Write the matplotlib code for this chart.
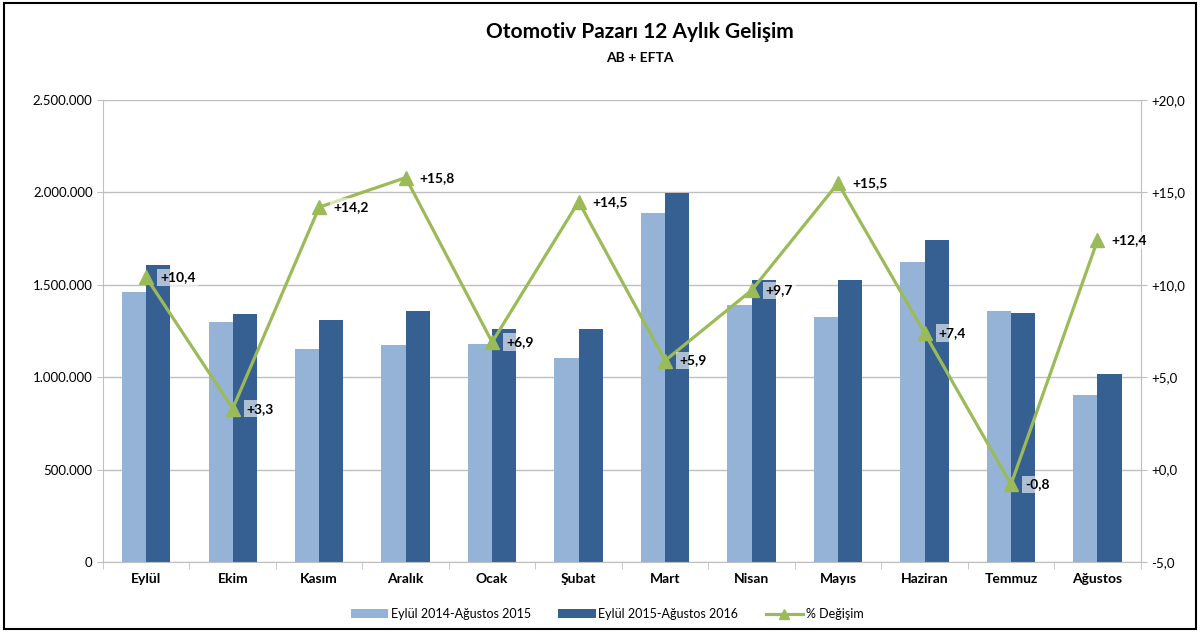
import matplotlib.pyplot as plt
import numpy as np
from matplotlib.patches import Rectangle
from matplotlib.ticker import FuncFormatter

plt.rcParams['font.family'] = ['Lato', 'DejaVu Sans']

months = ['Eylül', 'Ekim', 'Kasım', 'Aralık', 'Ocak', 'Şubat', 'Mart',
          'Nisan', 'Mayıs', 'Haziran', 'Temmuz', 'Ağustos']
prev_year = [1461000, 1299000, 1153000, 1174000, 1180000, 1104000, 1889000,
             1390000, 1326000, 1623000, 1358000, 904000]
this_year = [1607000, 1342000, 1310000, 1358000, 1260000, 1260000, 1997000,
             1526000, 1526000, 1742000, 1347000, 1017000]
change = [10.4, 3.3, 14.2, 15.8, 6.9, 14.5, 5.9, 9.7, 15.5, 7.4, -0.8, 12.4]

light = '#95B3D7'
dark = '#366092'
green = '#9BBB59'
grid = '#BFBFBF'

fig = plt.figure(figsize=(12.02, 6.39), dpi=100)
ax = fig.add_axes([0.0857, 0.1205, 0.8633, 0.723])
x = np.arange(len(months))
w = 0.28
ax.bar(x - w / 2, prev_year, w, color=light, label='Eylül 2014-Ağustos 2015', zorder=2)
ax.bar(x + w / 2, this_year, w, color=dark, label='Eylül 2015-Ağustos 2016', zorder=2)
ax.set_xlim(-0.5, len(months) - 0.5)
ax.set_ylim(0, 2500000)
ax.set_yticks(np.arange(0, 2500001, 500000))
ax.yaxis.set_major_formatter(FuncFormatter(lambda v, p: f'{int(v):,}'.replace(',', '.')))
ax.grid(axis='y', color=grid, lw=1, zorder=0)
ax.set_xticks(x)
ax.set_xticklabels(months, fontweight='bold', fontsize=10)
ax.set_xticks(np.arange(-0.5, len(months)), minor=True)
ax.tick_params(axis='x', which='major', length=0, pad=8)
ax.tick_params(axis='x', which='minor', length=5, color=grid)
ax.tick_params(axis='y', length=4, color=grid, labelsize=9.5)
for s in ['top', 'right']:
    ax.spines[s].set_visible(False)
for s in ['left', 'bottom']:
    ax.spines[s].set_color(grid)

ax2 = ax.twinx()
ax2.plot(x, change, color=green, lw=2.3, marker='^', markersize=10, label='% Değişim', zorder=3)
ax2.set_ylim(-5, 20)
ax2.set_yticks(np.arange(-5, 20.1, 5))
ax2.yaxis.set_major_formatter(FuncFormatter(lambda v, p: (f'{v:+.1f}').replace('.', ',')))
ax2.tick_params(axis='y', length=4, color=grid, labelsize=9.5)
for s in ['top', 'left', 'bottom']:
    ax2.spines[s].set_visible(False)
ax2.spines['right'].set_color(grid)
for xi, v in zip(x, change):
    ax2.annotate(f'{v:+.1f}'.replace('.', ','), (xi, v), xytext=(10, 0),
                 textcoords='offset points', va='center', ha='left',
                 fontsize=10, fontweight='bold',
                 bbox=dict(boxstyle='square,pad=0.2', fc='white', ec='none', alpha=0.6))

fig.text(0.532, 0.95, 'Otomotiv Pazarı 12 Aylık Gelişim', ha='center', va='center',
         fontsize=15, fontweight='bold')
fig.text(0.532, 0.909, 'AB + EFTA', ha='center', va='center', fontsize=10, fontweight='bold')

h1, l1 = ax.get_legend_handles_labels()
h2, l2 = ax2.get_legend_handles_labels()
leg = fig.legend(h1 + h2, l1 + l2, loc='center', bbox_to_anchor=(0.505, 0.039), ncol=3,
                 frameon=False, fontsize=9, handlelength=3.0, handleheight=0.7,
                 columnspacing=2.2, handletextpad=0.2, markerscale=0.7)

fig.patches.append(Rectangle((0.003, 0.015), 0.992, 0.98, transform=fig.transFigure,
                             fill=False, ec='black', lw=1.5))
fig.savefig('out.png', dpi=100)
